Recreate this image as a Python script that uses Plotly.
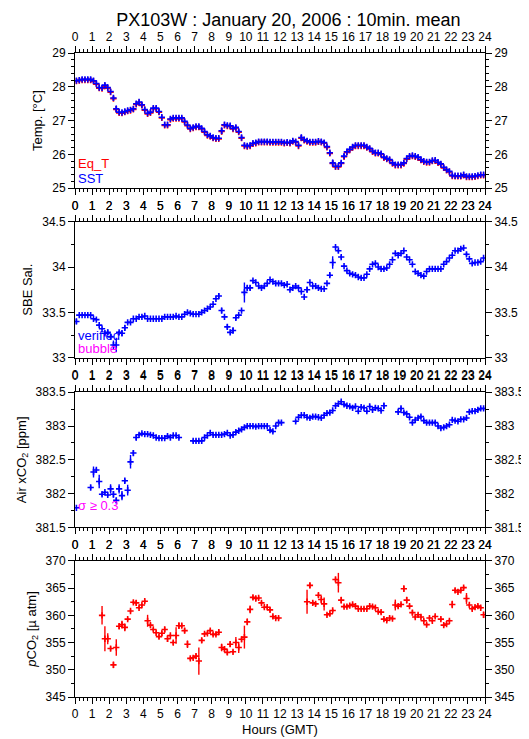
import plotly.graph_objects as go

# ---------------- data (10-min means, 6 values per hour) ----------------
sst_rows = [
    [28.18, 28.20, 28.22, 28.22, 28.22, 28.22],
    [28.18, 28.10, 27.98, 27.97, 28.05, 27.98],
    [27.86, 27.67, 27.35, 27.25, 27.24, 27.27],
    [27.30, 27.32, 27.35, 27.50, 27.55, 27.47],
    [27.33, 27.22, 27.25, 27.37, 27.37, 27.27],
    [27.10, 26.88, 26.88, 27.05, 27.08, 27.08],
    [27.08, 27.08, 26.98, 26.87, 26.77, 26.80],
    [26.83, 26.83, 26.77, 26.68, 26.58, 26.55],
    [26.50, 26.48, 26.48, 26.70, 26.88, 26.86],
    [26.85, 26.77, 26.80, 26.68, 26.50, 26.27],
    [26.25, 26.27, 26.33, 26.35, 26.38, 26.38],
    [26.38, 26.38, 26.37, 26.37, 26.37, 26.37],
    [26.37, 26.35, 26.36, 26.35, 26.40, 26.38],
    [26.27, 26.50, 26.44, 26.40, 26.37, 26.37],
    [26.37, 26.39, 26.38, 26.35, 26.23, 26.05],
    [25.75, 25.65, 25.65, 25.75, 25.95, 26.08],
    [26.15, 26.22, 26.27, 26.27, 26.27, 26.27],
    [26.22, 26.18, 26.10, 26.05, 26.05, 26.02],
    [25.92, 25.88, 25.85, 25.75, 25.70, 25.70],
    [25.70, 25.75, 25.88, 25.95, 25.97, 25.95],
    [25.92, 25.85, 25.80, 25.78, 25.78, 25.82],
    [25.83, 25.77, 25.72, 25.62, 25.55, 25.50],
    [25.38, 25.37, 25.37, 25.37, 25.40, 25.35],
    [25.35, 25.35, 25.36, 25.38, 25.40, 25.40],
]
sst_err_rows = [
    [.01, .01, .01, .01, .01, .01],
    [.01, .01, .02, .01, .01, .01],
    [.02, .06, .10, .01, .01, .01],
    [.01, .01, .01, .01, .01, .04],
    [.01, .01, .01, .01, .01, .05],
    [.01, .02, .01, .01, .01, .01],
    [.01, .01, .02, .02, .01, .01],
    [.01, .01, .01, .02, .01, .01],
    [.01, .01, .01, .10, .02, .01],
    [.01, .01, .01, .05, .04, .02],
    [.02, .01, .01, .01, .01, .01],
    [.01, .01, .01, .01, .01, .01],
    [.01, .01, .01, .02, .04, .01],
    [.01, .08, .02, .01, .01, .01],
    [.01, .01, .01, .01, .02, .05],
    [.10, .02, .01, .04, .06, .02],
    [.02, .01, .01, .01, .01, .01],
    [.01, .01, .01, .01, .01, .01],
    [.01, .01, .01, .02, .01, .01],
    [.01, .01, .02, .01, .01, .01],
    [.01, .01, .01, .01, .01, .01],
    [.01, .01, .02, .02, .02, .02],
    [.02, .01, .01, .01, .01, .01],
    [.01, .01, .01, .01, .01, .01],
]
eqt_rows = [
    [28.17, 28.18, 28.20, 28.20, 28.20, 28.20],
    [28.16, 28.08, 27.96, 27.95, 28.02, 27.96],
    [27.84, 27.65, 27.33, 27.23, 27.22, 27.25],
    [27.28, 27.30, 27.33, 27.48, 27.53, 27.45],
    [27.31, 27.20, 27.23, 27.35, 27.35, 27.25],
    [27.08, 26.86, 26.86, 27.03, 27.06, 27.06],
    [27.06, 27.06, 26.96, 26.85, 26.75, 26.78],
    [26.81, 26.81, 26.75, 26.66, 26.56, 26.53],
    [26.48, 26.46, 26.46, 26.68, 26.86, 26.84],
    [26.83, 26.75, 26.78, 26.66, 26.48, 26.25],
    [26.23, 26.25, 26.31, 26.33, 26.36, 26.36],
    [26.36, 26.36, 26.35, 26.35, 26.35, 26.35],
    [26.35, 26.33, 26.34, 26.33, 26.38, 26.36],
    [26.25, 26.48, 26.42, 26.38, 26.35, 26.35],
    [26.35, 26.37, 26.36, 26.33, 26.21, 26.03],
    [25.73, 25.63, 25.63, 25.73, 25.93, 26.06],
    [26.13, 26.20, 26.25, 26.25, 26.25, 26.25],
    [26.20, 26.16, 26.08, 26.03, 26.03, 26.00],
    [25.90, 25.86, 25.83, 25.73, 25.68, 25.68],
    [25.68, 25.73, 25.86, 25.93, 25.95, 25.93],
    [25.90, 25.83, 25.78, 25.76, 25.76, 25.80],
    [25.81, 25.75, 25.70, 25.60, 25.53, 25.48],
    [25.36, 25.35, 25.35, 25.35, 25.38, 25.33],
    [25.33, 25.33, 25.34, 25.36, 25.38, 25.38],
]
sal_rows = [
    [33.40, 33.47, 33.47, 33.47, 33.47, 33.47],
    [33.43, 33.42, 33.36, 33.32, 33.27, 33.28],
    [33.23, 33.14, 33.14, 33.28, 33.27, 33.33],
    [33.39, 33.39, 33.43, 33.43, 33.45, 33.45],
    [33.46, 33.43, 33.43, 33.43, 33.43, 33.43],
    [33.43, 33.45, 33.45, 33.45, 33.45, 33.46],
    [33.45, 33.45, 33.48, 33.50, 33.49, 33.48],
    [33.48, 33.48, 33.50, 33.52, 33.54, 33.56],
    [33.59, 33.65, 33.68, 33.52, 33.45, 33.34],
    [33.28, 33.30, 33.44, 33.47, 33.52, 33.72],
    [33.77, 33.77, 33.85, 33.83, 33.79, 33.77],
    [33.79, 33.82, 33.86, 33.84, 33.82, 33.82],
    [33.82, 33.80, 33.81, 33.75, 33.77, 33.79],
    [33.77, 33.73, 33.67, 33.75, 33.83, 33.79],
    [33.79, 33.77, 33.76, 33.76, 33.82, 33.91],
    [34.05, 34.22, 34.18, 34.11, 34.01, 33.96],
    [33.93, 33.92, 33.91, 33.89, 33.88, 33.88],
    [33.92, 33.98, 34.03, 34.04, 34.00, 33.98],
    [33.98, 33.99, 34.03, 34.08, 34.15, 34.13],
    [34.15, 34.18, 34.11, 34.08, 34.03, 33.95],
    [33.93, 33.91, 33.90, 33.95, 33.98, 33.98],
    [33.98, 33.98, 33.98, 34.03, 34.06, 34.10],
    [34.13, 34.18, 34.18, 34.20, 34.21, 34.14],
    [34.09, 34.04, 34.05, 34.05, 34.06, 34.10],
]
sal_err_rows = [
    [.03, .005, .005, .005, .005, .005],
    [.005, .005, .01, .01, .02, .03],
    [.02, .05, .08, .005, .03, .03],
    [.01, .005, .005, .005, .005, .005],
    [.005, .005, .005, .005, .005, .005],
    [.005, .005, .005, .005, .005, .005],
    [.005, .005, .005, .005, .005, .005],
    [.005, .005, .005, .005, .005, .005],
    [.005, .01, .03, .03, .01, .03],
    [.01, .03, .02, .01, .01, .11],
    [.03, .03, .005, .005, .005, .005],
    [.005, .005, .005, .005, .005, .005],
    [.005, .005, .005, .005, .005, .01],
    [.005, .01, .005, .03, .005, .005],
    [.005, .005, .005, .005, .005, .02],
    [.07, .01, .02, .02, .01, .005],
    [.005, .005, .005, .005, .005, .005],
    [.005, .01, .005, .005, .005, .005],
    [.005, .005, .005, .01, .005, .005],
    [.005, .005, .01, .005, .005, .005],
    [.005, .005, .01, .005, .005, .005],
    [.005, .005, .005, .005, .005, .005],
    [.01, .01, .005, .005, .005, .02],
    [.01, .005, .005, .005, .005, .005],
]
air_rows = [
    [381.79, None, None, None, None, 382.09],
    [382.32, 382.35, 382.18, 381.99, 382.02, 381.98],
    [382.07, 381.99, 381.90, 382.07, 381.97, 382.19],
    [382.05, 382.47, 382.60, 382.83, 382.87, 382.89],
    [382.88, 382.88, 382.87, 382.86, 382.83, 382.82],
    [382.82, 382.82, 382.85, 382.83, 382.86, 382.86],
    [382.83, None, None, None, None, 382.78],
    [382.78, 382.78, 382.78, 382.83, 382.86, 382.90],
    [382.87, 382.87, 382.87, 382.87, 382.88, 382.90],
    [382.86, 382.87, 382.91, 382.93, 382.95, 382.98],
    [383.00, 383.00, 383.00, 382.99, 383.00, 383.00],
    [383.00, 383.00, 382.94, 382.92, 383.00, 383.05],
    [383.05, None, None, None, None, 383.07],
    [383.13, 383.16, 383.16, 383.13, 383.12, 383.14],
    [383.14, 383.13, 383.12, 383.16, 383.19, 383.20],
    [383.23, 383.30, 383.33, 383.36, 383.32, 383.30],
    [383.29, 383.27, 383.29, 383.22, 383.28, 383.27],
    [383.22, 383.29, 383.24, 383.27, 383.26, 383.23],
    [383.30, None, None, None, None, 383.21],
    [383.26, 383.20, 383.18, 383.13, 383.05, 383.09],
    [383.12, 383.14, 383.08, 383.05, 383.05, 383.05],
    [383.05, 383.00, 382.97, 382.98, 383.00, 383.02],
    [383.09, 383.08, 383.07, 383.10, 383.10, 383.12],
    [383.21, 383.22, 383.22, 383.24, 383.26, 383.26],
]
air_err_rows = [
    [.01, 0, 0, 0, 0, .03],
    [.08, .03, .10, .03, .02, .02],
    [.07, .05, .04, .07, .07, .03],
    [.08, .10, .04, .04, .02, .02],
    [.02, .02, .02, .02, .02, .02],
    [.02, .02, .02, .02, .02, .02],
    [.02, 0, 0, 0, 0, .02],
    [.02, .02, .02, .02, .02, .02],
    [.02, .02, .02, .02, .02, .02],
    [.02, .02, .02, .02, .02, .02],
    [.02, .02, .02, .02, .02, .02],
    [.02, .02, .02, .02, .02, .02],
    [.02, 0, 0, 0, 0, .02],
    [.02, .02, .02, .02, .02, .02],
    [.02, .02, .02, .02, .02, .02],
    [.02, .02, .02, .02, .02, .02],
    [.02, .02, .02, .02, .02, .02],
    [.02, .03, .02, .03, .02, .02],
    [.04, 0, 0, 0, 0, .02],
    [.03, .02, .02, .02, .02, .02],
    [.02, .02, .02, .02, .02, .02],
    [.02, .02, .02, .02, .02, .02],
    [.02, .02, .02, .02, .02, .02],
    [.02, .02, .02, .02, .02, .02],
]
pco2_rows = [
    [None, None, None, None, None, None],
    [None, None, None, 360.0, 355.7, 355.7],
    [353.9, 350.9, 354.1, 358.0, 358.3, 357.8],
    [359.3, 360.8, 362.4, 362.3, 361.4, 361.9],
    [362.6, 359.0, 358.2, 357.4, 356.8, 356.1],
    [356.7, 357.4, 355.7, 356.3, 355.0, 356.3],
    [358.1, 358.1, 357.2, 354.7, 352.1, 352.2],
    [352.5, 351.6, 355.4, 356.6, 356.7, 357.2],
    [356.5, 356.5, 356.9, 354.1, 353.8, 353.2],
    [354.7, 353.3, 355.0, 354.1, 355.6, 356.0],
    [358.8, 361.1, 363.3, 363.1, 363.2, 362.3],
    [361.5, 361.5, 361.0, 359.8, 359.5, 359.5],
    [None, None, None, None, None, None],
    [None, None, None, 362.5, 365.5, 362.3],
    [362.1, 363.7, 362.9, 362.1, 360.1, 360.3],
    [360.9, 366.6, 366.0, 362.8, 361.6, 361.6],
    [361.8, 362.0, 361.7, 361.2, 361.2, 361.2],
    [361.2, 361.7, 361.6, 361.4, 360.7, 360.6],
    [359.3, 359.1, 359.5, 359.4, 361.9, 361.7],
    [362.0, 364.9, 362.8, 361.7, 360.5, 359.7],
    [360.1, 359.7, 359.0, 358.3, 359.5, 359.0],
    [359.8, None, 359.3, 358.2, 358.4, 359.0],
    [362.0, 364.6, 364.3, 364.6, 365.1, 363.1],
    [361.9, 361.2, 361.5, 361.7, 361.4, 360.1],
]
pco2_err_rows = [
    [0, 0, 0, 0, 0, 0],
    [0, 0, 0, 1.7, 2.3, 1.0],
    [0.4, 0.6, 1.5, 0.5, 0.7, 0.7],
    [0.3, 0.3, 0.3, 0.5, 0.3, 0.3],
    [0.3, 1.1, 0.4, 0.3, 0.3, 0.4],
    [0.5, 0.5, 0.6, 0.3, 0.4, 1.5],
    [0.6, 0.4, 0.5, 0.7, 0.3, 0.3],
    [0.5, 2.5, 0.5, 0.3, 0.3, 0.3],
    [0.3, 0.3, 0.5, 0.7, 0.5, 0.5],
    [0.5, 0.3, 1.0, 1.0, 0.5, 2.1],
    [0.6, 0.7, 0.4, 0.4, 0.3, 0.3],
    [0.3, 0.3, 0.4, 0.3, 0.3, 0.3],
    [0, 0, 0, 0, 0, 0],
    [0, 0, 0, 2.2, 0.5, 0.4],
    [0.4, 0.4, 0.7, 1.2, 0.3, 0.4],
    [0.3, 0.4, 1.8, 0.6, 0.3, 0.3],
    [0.3, 0.3, 0.3, 0.3, 0.3, 0.3],
    [0.3, 0.3, 0.3, 0.3, 0.3, 0.3],
    [0.3, 0.3, 0.3, 0.3, 1.0, 0.4],
    [0.3, 0.6, 0.6, 0.3, 0.5, 0.3],
    [0.3, 0.3, 0.3, 0.3, 0.3, 0.3],
    [0.3, 0, 0.3, 0.4, 0.3, 0.3],
    [0.7, 0.4, 0.3, 0.3, 0.3, 1.0],
    [0.3, 0.3, 0.3, 0.3, 0.3, 0.6],
]

# x tick labels 0..24 (hours, GMT)
hour_ticks = list(range(0, 25))


def flat(rows):
    return [v for r in rows for v in r]


n_slots = 144
hours = [(i + 0.5) / 6.0 for i in range(n_slots)]

sst, sst_err = flat(sst_rows), flat(sst_err_rows)
eqt = flat(eqt_rows)
sal, sal_err = flat(sal_rows), flat(sal_err_rows)
air, air_err = flat(air_rows), flat(air_err_rows)
pco2, pco2_err = flat(pco2_rows), flat(pco2_err_rows)

BLUE, RED, MAG = "#0000ff", "#ff0000", "#ff00ff"
FONT = "Liberation Sans, Arial, sans-serif"

fig = go.Figure()


def add_series(y, err, color, k):
    xa = "x" if k == 1 else f"x{k}"
    ya = "y" if k == 1 else f"y{k}"
    fig.add_trace(go.Scatter(
        x=hours, y=y, mode="markers", xaxis=xa, yaxis=ya,
        marker=dict(symbol="cross-thin", size=4.5, color=color,
                    line=dict(width=1.6, color=color)),
        error_y=dict(type="data", array=err, width=0, thickness=1.4, color=color),
        showlegend=False, hoverinfo="skip",
    ))


add_series(eqt, sst_err, RED, 1)
add_series(sst, sst_err, BLUE, 1)
add_series(sal, sal_err, BLUE, 2)
add_series(air, air_err, BLUE, 3)
add_series(pco2, pco2_err, RED, 4)

# panel geometry (paper fractions)
domains = [[0.790, 1.0], [0.5268, 0.7381], [0.2634, 0.4732], [0.0, 0.2113]]
yranges = [[25, 29], [33, 34.5], [381.5, 383.5], [345, 370]]
ydticks = [1, 0.5, 0.5, 5]
yminor = [0.2, 0.25, 0.25, 2.5]
ytitles = ["Temp. [°C]", "SBE Sal.", "Air xCO<sub>2</sub> [ppm]",
           "<i>p</i>CO<sub>2</sub> [µ atm]"]

tickfont = dict(family=FONT, size=12, color="black")
axis_common = dict(showgrid=False, zeroline=False, showline=True, linecolor="black",
                   linewidth=1, ticks="outside", ticklen=6, tickwidth=1,
                   tickcolor="black", tickfont=tickfont)

layout = {}
for k in range(1, 5):
    xs = "" if k == 1 else str(k)
    ko = k + 4
    xminor = dict(dtick=0.25, ticks="outside", ticklen=3, tickcolor="black", showgrid=False)
    yminor_d = dict(dtick=yminor[k - 1], ticks="outside", ticklen=3, tickcolor="black",
                    showgrid=False)
    xa = dict(axis_common, domain=[0, 1], range=[0, 24], anchor=f"y{xs}",
              tickmode="array", tickvals=hour_ticks,
              ticktext=[str(h) for h in hour_ticks], minor=xminor)
    if k == 4:
        xa["title"] = dict(text="Hours (GMT)", font=dict(family=FONT, size=13), standoff=4)
    layout[f"xaxis{xs}"] = xa
    layout[f"xaxis{ko}"] = dict(axis_common, range=[0, 24], overlaying=f"x{xs}", side="top",
                                anchor=f"y{xs}", tickmode="array", tickvals=hour_ticks,
                                ticktext=[str(h) for h in hour_ticks], minor=xminor)
    layout[f"yaxis{xs}"] = dict(axis_common, domain=domains[k - 1], range=yranges[k - 1],
                                anchor=f"x{xs}", dtick=ydticks[k - 1], tick0=0,
                                minor=yminor_d,
                                title=dict(text=ytitles[k - 1],
                                           font=dict(family=FONT, size=13), standoff=6))
    layout[f"yaxis{ko}"] = dict(axis_common, range=yranges[k - 1], overlaying=f"y{xs}",
                                side="right", anchor=f"x{xs}", dtick=ydticks[k - 1], tick0=0,
                                minor=yminor_d)
    # dummy traces so the mirrored axes are drawn
    fig.add_trace(go.Scatter(x=[None], y=[None], xaxis=f"x{ko}", yaxis=f"y{xs}",
                             showlegend=False, hoverinfo="skip"))
    fig.add_trace(go.Scatter(x=[None], y=[None], xaxis=f"x{xs}", yaxis=f"y{ko}",
                             showlegend=False, hoverinfo="skip"))

fig.update_layout(**layout)

ann_font = dict(family=FONT, size=13)
annotations = [
    dict(text="Eq_T", x=0.08, y=25.72, xref="x", yref="y", font=dict(ann_font, color=RED)),
    dict(text="SST", x=0.08, y=25.29, xref="x", yref="y", font=dict(ann_font, color=BLUE)),
    dict(text="verified", x=0.08, y=33.24, xref="x2", yref="y2", font=dict(ann_font, color=BLUE)),
    dict(text="bubble", x=0.08, y=33.10, xref="x2", yref="y2", font=dict(ann_font, color=MAG)),
    dict(text="σ ≥ 0.3", x=0.08, y=381.82, xref="x3", yref="y3", font=dict(ann_font, color=MAG)),
]
for a in annotations:
    a.update(showarrow=False, xanchor="left", yanchor="middle")

fig.update_layout(
    width=529, height=739,
    margin=dict(l=58, r=49, t=45, b=41),
    paper_bgcolor="white", plot_bgcolor="white",
    title=dict(text="PX103W : January 20, 2006 : 10min. mean", xref="container",
               x=0.53, xanchor="center", y=0.984, yanchor="middle",
               font=dict(family=FONT, size=18, color="black")),
    annotations=annotations,
    font=dict(family=FONT, color="black"),
)

fig.write_html("out.html")
